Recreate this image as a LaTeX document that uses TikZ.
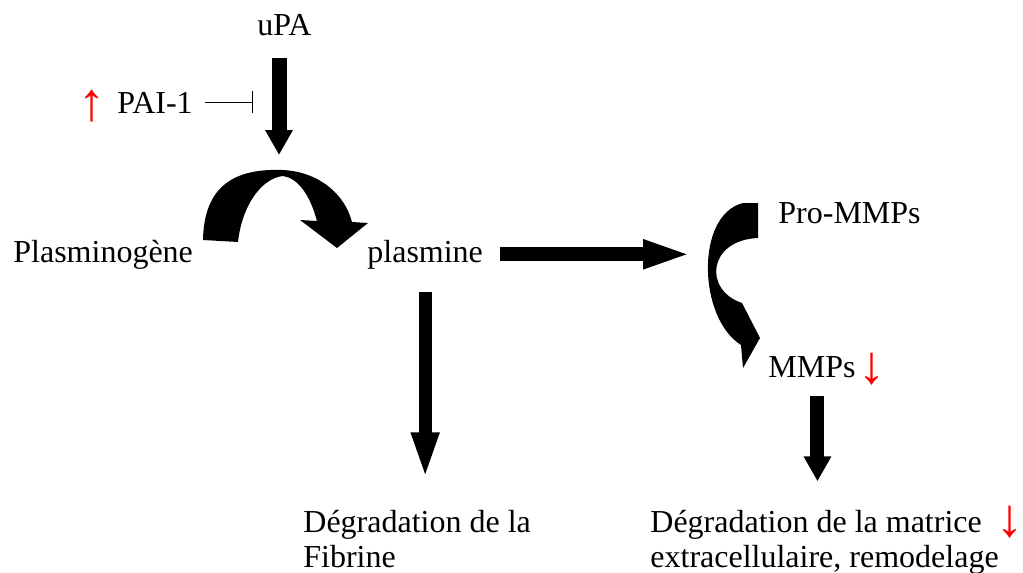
\documentclass[tikz,border=0pt]{standalone}
\usepackage{fontspec}
\setmainfont{Liberation Serif}
\usetikzlibrary{positioning, arrows.meta, calc}

\begin{document}
\begin{tikzpicture}[x=0.5pt, y=-0.5pt, font=\fontsize{16}{17.5}\selectfont,
  lbl/.style={inner sep=0pt, anchor=base west, align=left},
  redsym/.style={text=red, inner sep=0pt, font=\fontsize{27}{27}\selectfont},
  fat/.style={line width=7pt, -{Triangle[width=13pt, length=12.5pt]}},
  inhib/.style={line width=0.6pt, -{Bar[width=11pt]}}]
  \useasboundingbox (0,0) rectangle (1023,573);
  % labels
  \node[lbl] (upa) at (257,35) {uPA};
  \node[lbl] (pai) at (117,113) {PAI-1};
  \node[redsym] (paiup) at (92,106) {↑};
  \node[lbl] (plg) at (13,262) {Plasminogène};
  \node[lbl] (plasmine) at (367,262) {plasmine};
  \node[lbl] (prommp) at (778,223) {Pro-MMPs};
  \node[lbl] (mmp) at (768,377) {MMPs};
  \node[redsym] (mmpdown) at (872,369) {↓};
  \node[lbl] (fib) at (303,567) {Dégradation de la\\Fibrine};
  \node[lbl] (ecm) at (650,567) {Dégradation de la matrice\\extracellulaire, remodelage};
  \node[redsym] (ecmdown) at (1010,522) {↓};
  \coordinate (cyc1) at (279,170);
  \coordinate (cyc2) at (706,255);
  % curved conversion arrows
  \fill (203,240) .. controls (204,188) and (232,168) .. (283,170) .. controls (320,172) and (345,195) .. (352,222) -- (368,223) -- (337,248) -- (300,220) -- (317,221) .. controls (310,195) and (298,178) .. (283,176) .. controls (262,178) and (242,205) .. (238,242) -- cycle;
  \fill (743,203) -- (758,203) -- (758,238) .. controls (708,240) and (703,290) .. (742,303) -- (760,338) -- (743,368) -- (741,345) .. controls (698,318) and (695,215) .. (743,203) -- cycle;
  % straight arrows
  \draw[fat, line width=7.5pt, shorten <=11pt, shorten >=7.5pt] (upa.south -| cyc1) -- (cyc1);
  \draw[inhib, shorten <=6pt, shorten >=13pt] (pai.east) -- (pai.east -| cyc1);
  \draw[fat, -{Triangle[width=13pt, length=24.5pt]}, shorten <=8.5pt, shorten >=7pt] (plasmine.east) -- (plasmine.east -| cyc2);
  \draw[fat, line width=6.5pt, -{Triangle[width=12.5pt, length=23.5pt]}, shorten <=11.5pt, shorten >=15pt] (plasmine.south) -- (plasmine.south |- fib.north);
  \draw[fat, shorten <=9pt, shorten >=14pt] ([xshift=2.75pt]mmp.south) -- ([xshift=2.75pt]mmp.south |- ecm.north);
\end{tikzpicture}
\end{document}
